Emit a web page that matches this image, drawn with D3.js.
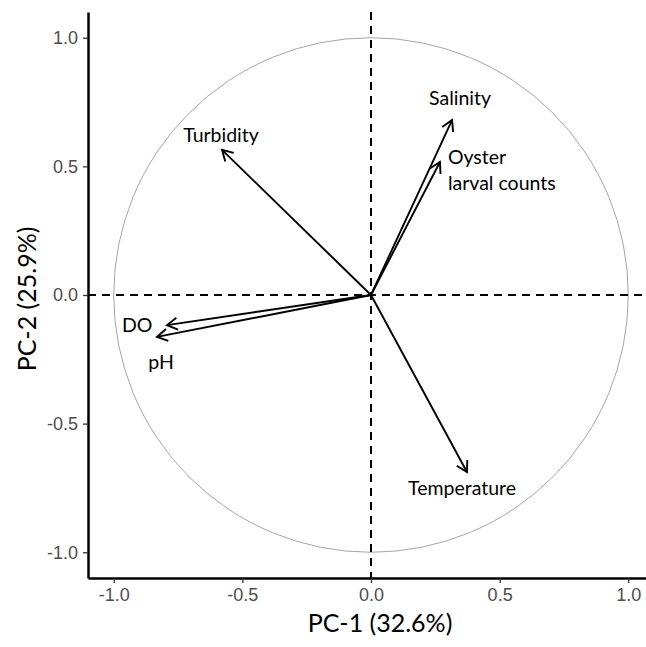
<!DOCTYPE html>
<html>
<head>
<meta charset="utf-8">
<script src="https://cdn.jsdelivr.net/npm/d3@7"></script>
<style>
	body { margin: 0; background: #fff; }
	.tick text { font-family: "Liberation Sans", Arial, sans-serif; font-size: 18px; fill: #4d4d4d; }
	.tick line { stroke: #333; stroke-width: 1.3; }
	.lab { font-family: Lato, "Open Sans", sans-serif; font-size: 19.5px; fill: #000; }
	.title { font-family: Lato, "Open Sans", sans-serif; font-size: 25px; fill: #000; }
</style>
</head>
<body>
<svg width="646" height="647" id="pca"></svg>
<script>
	// loadings (PC-1, PC-2)
	var variables = ["Turbidity", "Salinity", "Oyster\nlarval counts", "DO", "pH", "Temperature"];
	var pc1 = [-0.579, 0.315, 0.268, -0.793, -0.832, 0.373];
	var pc2 = [0.564, 0.680, 0.517, -0.117, -0.163, -0.688];
	// where each label sits (data units) and how it is anchored
	var labelX = [-0.583, 0.346, 0.299, -0.909, -0.816, 0.354];
	var labelY = [0.622, 0.766, 0.486, -0.117, -0.260, -0.750];
	var labelAnchor = ["middle", "middle", "start", "middle", "middle", "middle"];
	var tickValues = [-1.0, -0.5, 0.0, 0.5, 1.0];
	var xTitle = "PC-1 (32.6%)", yTitle = "PC-2 (25.9%)";

	var svg = d3.select("svg#pca"),
		margin = { top: 12, left: 88 },
		size = 566;

	var x = d3.scaleLinear().domain([-1.1, 1.1]).range([margin.left, margin.left + size]);
	var y = d3.scaleLinear().domain([-1.1, 1.1]).range([margin.top + size, margin.top]);

	// unit circle
	svg.append("circle")
		.attr("cx", x(0))
		.attr("cy", y(0))
		.attr("r", x(1) - x(0))
		.attr("fill", "none")
		.attr("stroke", "#a6a6a6")
		.attr("stroke-width", 1);

	// dashed zero lines
	svg.append("line")
		.attr("x1", x(0)).attr("x2", x(0))
		.attr("y1", y(1.1)).attr("y2", y(-1.1))
		.attr("stroke", "#000").attr("stroke-width", 2)
		.attr("stroke-dasharray", "8,6");
	svg.append("line")
		.attr("x1", x(-1.1)).attr("x2", x(1.1))
		.attr("y1", y(0)).attr("y2", y(0))
		.attr("stroke", "#000").attr("stroke-width", 2)
		.attr("stroke-dasharray", "8,6");

	var data = variables.map(function(v, i) {
		return { name: v, pc1: pc1[i], pc2: pc2[i], lx: labelX[i], ly: labelY[i], anchor: labelAnchor[i] };
	});

	// arrows
	var head = 12, spread = Math.PI / 6;
	var arrows = svg.selectAll(".arrow")
		.data(data)
		.enter().append("g")
		.attr("class", "arrow");

	arrows.append("line")
		.attr("x1", x(0)).attr("y1", y(0))
		.attr("x2", function(d) { return x(d.pc1); })
		.attr("y2", function(d) { return y(d.pc2); })
		.attr("stroke", "#000").attr("stroke-width", 1.9);

	arrows.append("path")
		.attr("d", function(d) {
			var tx = x(d.pc1), ty = y(d.pc2);
			var a = Math.atan2(ty - y(0), tx - x(0));
			var p = d3.path();
			p.moveTo(tx - head * Math.cos(a - spread), ty - head * Math.sin(a - spread));
			p.lineTo(tx, ty);
			p.lineTo(tx - head * Math.cos(a + spread), ty - head * Math.sin(a + spread));
			return p.toString();
		})
		.attr("fill", "none")
		.attr("stroke", "#000").attr("stroke-width", 1.9)
		.attr("stroke-linejoin", "miter");

	// labels
	var labels = svg.selectAll(".lab")
		.data(data)
		.enter().append("text")
		.attr("class", "lab")
		.attr("text-anchor", function(d) { return d.anchor; });

	labels.each(function(d) {
		var lines = d.name.split("\n");
		var t = d3.select(this);
		lines.forEach(function(l, k) {
			t.append("tspan")
				.attr("x", x(d.lx))
				.attr("y", y(d.ly) + (k - (lines.length - 1) / 2) * 26)
				.attr("dy", "0.35em")
				.text(l);
		});
	});

	// axes
	var fmt = function(d) { return d.toFixed(1); };

	var gx = svg.append("g")
		.attr("transform", "translate(0," + (margin.top + size) + ")")
		.call(d3.axisBottom(x).tickValues(tickValues).tickFormat(fmt).tickSize(5).tickSizeOuter(0).tickPadding(5));
	gx.select(".domain").attr("stroke", "#000").attr("stroke-width", 2.5);

	var gy = svg.append("g")
		.attr("transform", "translate(" + margin.left + ",0)")
		.call(d3.axisLeft(y).tickValues(tickValues).tickFormat(fmt).tickSize(5).tickSizeOuter(0).tickPadding(5));
	gy.select(".domain").attr("stroke", "#000").attr("stroke-width", 2.5);

	// axis titles
	svg.append("text")
		.attr("class", "title")
		.attr("x", 380)
		.attr("y", 632)
		.attr("text-anchor", "middle")
		.text(xTitle);

	svg.append("text")
		.attr("class", "title")
		.attr("transform", "translate(36," + 299 + ") rotate(-90)")
		.attr("text-anchor", "middle")
		.text(yTitle);
</script>
</body>
</html>
